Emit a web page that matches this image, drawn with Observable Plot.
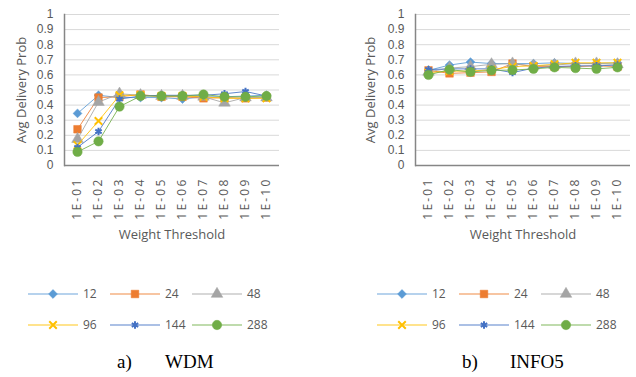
<!DOCTYPE html>
<html><head><meta charset="utf-8">
<script src="https://cdn.jsdelivr.net/npm/d3@7"></script>
<script src="https://cdn.jsdelivr.net/npm/@observablehq/plot@0.6"></script>
<style>
body{margin:0;background:#fff;}
#root{position:relative;width:636px;height:377px;overflow:hidden;font-family:"Open Sans",sans-serif;}
.panel{position:absolute;top:0;}
.legend{position:absolute;top:278px;}
.cap{position:absolute;top:351px;font-family:"Liberation Serif","Times New Roman",serif;font-size:19px;line-height:22px;color:#000;white-space:pre;}
g[aria-label="x-axis tick label"] text{letter-spacing:2.2px;}
g[aria-label="y-axis tick label"] text{font-family:"Liberation Sans",Arial,sans-serif;}
</style></head><body><div id="root"></div>
<script>
// ---- data ----
const categories = ["1E-01","1E-02","1E-03","1E-04","1E-05","1E-06","1E-07","1E-08","1E-09","1E-10"];
const seriesNames = ["12","24","48","96","144","288"];
const yTicks = [0,0.1,0.2,0.3,0.4,0.5,0.6,0.7,0.8,0.9,1];

const wdm12  = [0.345,0.465,0.45,0.45,0.45,0.44,0.455,0.455,0.46,0.465];
const wdm24  = [0.24,0.45,0.455,0.47,0.455,0.455,0.445,0.45,0.445,0.45];
const wdm48  = [0.175,0.42,0.475,0.465,0.46,0.46,0.455,0.415,0.45,0.45];
const wdm96  = [0.135,0.295,0.465,0.465,0.46,0.46,0.455,0.445,0.445,0.445];
const wdm144 = [0.12,0.225,0.44,0.46,0.465,0.465,0.465,0.475,0.49,0.46];
const wdm288 = [0.09,0.16,0.39,0.46,0.46,0.46,0.47,0.455,0.455,0.46];

const info12  = [0.63,0.665,0.685,0.675,0.675,0.675,0.68,0.675,0.675,0.68];
const info24  = [0.63,0.61,0.615,0.62,0.675,0.655,0.655,0.655,0.66,0.655];
const info48  = [0.62,0.645,0.655,0.67,0.675,0.66,0.665,0.675,0.675,0.67];
const info96  = [0.615,0.625,0.625,0.635,0.655,0.66,0.67,0.68,0.68,0.68];
const info144 = [0.635,0.64,0.64,0.64,0.615,0.645,0.655,0.66,0.66,0.665];
const info288 = [0.60,0.635,0.62,0.63,0.632,0.64,0.65,0.645,0.64,0.65];

const colors = ["#5B9BD5","#ED7D31","#A5A5A5","#FFC000","#4472C4","#70AD47"];
const symbols = ["diamond2","square","triangle","times","asterisk","circle"];
const d3symbols = [d3.symbolDiamond2,d3.symbolSquare,d3.symbolTriangle,d3.symbolTimes,d3.symbolAsterisk,d3.symbolCircle];
const strokeSym = [false,false,false,true,true,false];
const radii = [4,4.3,4.3,3.5,3.5,4.7];

const root = document.getElementById("root");

function makePanel(valueArrays, left, marginLeft, marginRight, ylabelDx) {
  const marks = [
    Plot.gridY(yTicks, {stroke:"#d9d9d9", strokeOpacity:1, strokeWidth:1}),
    Plot.axisY(yTicks, {tickSize:0, tickPadding:11, tickFormat:d=>String(d), label:null, fill:"#595959", fontSize:12}),
    Plot.axisX({tickRotate:-90, tickSize:0, tickPadding:12, label:null, fill:"#595959", fontSize:12}),
    Plot.ruleY([0], {stroke:"#868686", strokeWidth:1.5}),
    Plot.frame({anchor:"left", stroke:"#868686", strokeWidth:1.5}),
    Plot.text(["Weight Threshold"], {frameAnchor:"bottom", dy:73, textAnchor:"middle", fill:"#595959", fontSize:13}),
    Plot.text(["Avg Delivery Prob"], {frameAnchor:"left", dx:ylabelDx, textAnchor:"middle", rotate:-90, fill:"#595959", fontSize:13})
  ];
  seriesNames.forEach((s,i)=>{
    const data = categories.map((c,j)=>({cat:c, v:valueArrays[i][j]}));
    marks.push(Plot.line(data, {x:"cat", y:"v", stroke:colors[i], strokeWidth:1, strokeOpacity:0.85}));
    marks.push(Plot.dot(data, {x:"cat", y:"v", symbol:symbols[i], r:radii[i],
      fill: strokeSym[i] ? "none" : colors[i], stroke: colors[i], strokeWidth: strokeSym[i] ? 2 : 0.5}));
  });
  const svg = Plot.plot({
    width:318, height:250, marginLeft, marginRight, marginTop:14, marginBottom:85,
    style:{fontFamily:"'Open Sans', sans-serif", fontSize:"12px", color:"#595959", background:"transparent", overflow:"visible"},
    x:{type:"point", domain:categories, padding:0.5},
    y:{domain:[0,1]},
    marks
  });
  const div = document.createElement("div");
  div.className = "panel";
  div.style.left = left + "px";
  div.appendChild(svg);
  root.appendChild(div);
}

function makeLegend(left, offset) {
  const svg = d3.create("svg").attr("width",318).attr("height",60)
    .attr("class","legend").style("left", left+"px")
    .style("font-family","'Open Sans', sans-serif").style("font-size","12px");
  seriesNames.forEach((s,i)=>{
    const col = i%3, row = Math.floor(i/3);
    const x0 = offset + col*82, y = 16 + row*31;
    const g = svg.append("g");
    g.append("line").attr("x1",x0).attr("x2",x0+50).attr("y1",y).attr("y2",y)
      .attr("stroke",colors[i]).attr("stroke-opacity",0.6).attr("stroke-width",1.5);
    const r = radii[i];
    g.append("path").attr("transform",`translate(${x0+25},${y})`)
      .attr("d", d3.symbol(d3symbols[i], Math.PI*r*r)())
      .attr("fill", strokeSym[i] ? "none" : colors[i])
      .attr("stroke", colors[i]).attr("stroke-width", strokeSym[i] ? 2 : 0.5);
    g.append("text").attr("x",x0+55).attr("y",y).attr("dy","0.35em")
      .attr("fill","#595959").text(s);
  });
  root.appendChild(svg.node());
}

function cap(text, x) {
  const d = document.createElement("div");
  d.className = "cap"; d.style.left = x+"px"; d.textContent = text;
  root.appendChild(d);
}

makePanel([wdm12,wdm24,wdm48,wdm96,wdm144,wdm288], 0, 64, 39, -43);
makePanel([info12,info24,info48,info96,info144,info288], 318, 97, 6, -45);
makeLegend(0, 28);
makeLegend(318, 59);
cap("a)", 117); cap("WDM", 165);
cap("b)", 462); cap("INFO5", 510);
</script></body></html>
